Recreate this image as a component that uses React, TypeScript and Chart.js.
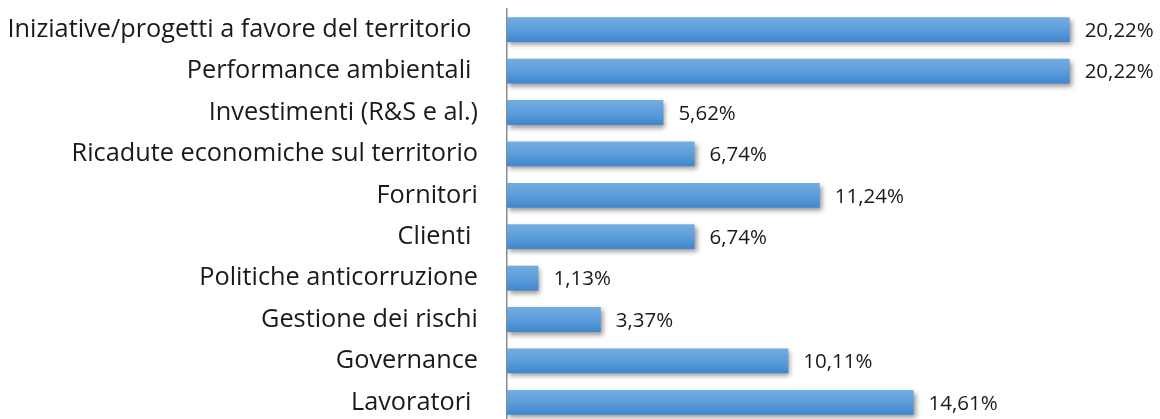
import React, { useEffect, useRef } from "react";
import { Chart, registerables } from "chart.js";

Chart.register(...registerables);

const categories = [
  "Iniziative/progetti a favore del territorio ",
  "Performance ambientali ",
  "Investimenti (R&S e al.)",
  "Ricadute economiche sul territorio",
  "Fornitori",
  "Clienti ",
  "Politiche anticorruzione",
  "Gestione dei rischi",
  "Governance",
  "Lavoratori ",
];
const values = [20.22, 20.22, 5.62, 6.74, 11.24, 6.74, 1.13, 3.37, 10.11, 14.61];
const valueLabels = ["20,22%", "20,22%", "5,62%", "6,74%", "11,24%", "6,74%", "1,13%", "3,37%", "10,11%", "14,61%"];

const FONT = "'Open Sans', 'Noto Sans', sans-serif";

const shadowPlugin = {
  id: "barShadow",
  beforeDatasetsDraw(chart: any) {
    const ctx = chart.ctx;
    ctx.save();
    ctx.shadowColor = "rgba(0,0,0,0.42)";
    ctx.shadowBlur = 5;
    ctx.shadowOffsetX = 2;
    ctx.shadowOffsetY = 3;
  },
  afterDatasetsDraw(chart: any) {
    const ctx = chart.ctx;
    ctx.restore();
    const meta = chart.getDatasetMeta(0);
    ctx.save();
    ctx.font = `20.5px ${FONT}`;
    ctx.fillStyle = "#1a1a1a";
    ctx.textAlign = "left";
    ctx.textBaseline = "middle";
    meta.data.forEach((el: any, i: number) => {
      ctx.fillText(valueLabels[i], el.x + 15, el.y + 1.5);
    });
    ctx.restore();
  },
};

export default function App() {
  const ref = useRef<HTMLCanvasElement | null>(null);
  useEffect(() => {
    document.body.style.margin = "0";
    const canvas = ref.current!;
    const chart = new Chart(canvas, {
      type: "bar",
      data: {
        labels: categories,
        datasets: [
          {
            data: values,
            barPercentage: 0.6,
            categoryPercentage: 1,
            borderWidth: 0,
            backgroundColor: (c: any) => {
              const ch = c.chart;
              const y = ch.scales?.y;
              if (!y || c.dataIndex === undefined) return "#5599d8";
              const cy = y.getPixelForValue(c.dataIndex);
              if (!Number.isFinite(cy)) return "#5599d8";
              const g = ch.ctx.createLinearGradient(0, cy - 12.5, 0, cy + 12.5);
              g.addColorStop(0, "#74acdf");
              g.addColorStop(0.5, "#5c9edc");
              g.addColorStop(1, "#3f86cd");
              return g;
            },
          },
        ],
      },
      options: {
        indexAxis: "y",
        responsive: false,
        animation: false,
        layout: { padding: { top: 9, bottom: 9, right: 13, left: 0 } },
        plugins: { legend: { display: false }, tooltip: { enabled: false } },
        scales: {
          x: { display: false, min: 0, max: 23 },
          y: {
            afterFit: (s: any) => {
              s.width = 507;
              s.paddingTop = 0;
              s.paddingBottom = 0;
            },
            grid: { display: false, drawTicks: false },
            border: { display: true, color: "#8c8c8c", width: 1.5 },
            ticks: {
              padding: 29,
              color: "#1a1a1a",
              font: { family: FONT, size: 25.3 },
            },
          },
        },
      },
      plugins: [shadowPlugin],
    });
    return () => chart.destroy();
  }, []);
  return (
    <div style={{ position: "absolute", left: 0, top: 0 }}>
      <canvas ref={ref} width={1160} height={432} style={{ display: "block" }} />
    </div>
  );
}
